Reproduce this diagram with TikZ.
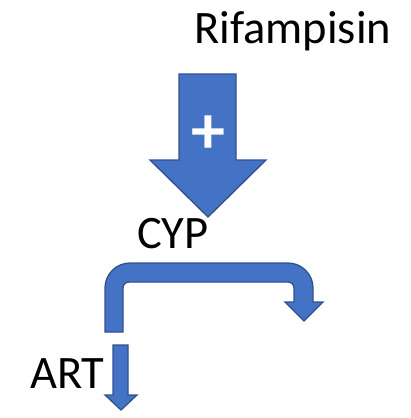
\documentclass[tikz,border=0pt]{standalone}
\usepackage{fontspec}
\setmainfont{Carlito}
\begin{document}
\begin{tikzpicture}[x=1pt,y=-1pt,
  blockarrow/.style={fill=officeblue,draw=officeedge,line width=1.3pt,line join=miter},
  lbl/.style={inner sep=0pt,anchor=base west,font=\fontsize{46.5}{52}\selectfont,text=black}]
\definecolor{officeblue}{HTML}{4472C4}
\definecolor{officeedge}{HTML}{2F528F}
\useasboundingbox (0,0) rectangle (410,418);
% big down arrow
\draw[blockarrow] (179,74) -- (236,74) -- (236,160) -- (266,160) -- (208,217) -- (150,160) -- (179,160) -- cycle;
\node[inner sep=0pt,text=white,font=\fontsize{68}{74}\selectfont\bfseries] (plus) at (208,135) {+};
% bent arrow
\draw[blockarrow] (105,332) -- (105,288) .. controls (105,274.2) and (116.2,263) .. (130,263)
  -- (288,263) .. controls (301.8,263) and (313,274.2) .. (313,288)
  -- (313,302) -- (323,302) -- (304,321) -- (285,302) -- (294,302) -- (294,288)
  .. controls (294,284.7) and (291.3,282) .. (288,282)
  -- (129,282) .. controls (125.7,282) and (123,284.7) .. (123,288)
  -- (123,332) -- cycle;
% small down arrow
\draw[blockarrow] (113,345) -- (128,345) -- (128,395) -- (137,395) -- (121,410) -- (105,395) -- (113,395) -- cycle;
% labels
\node[lbl] (rif) at (194,43) {Rifampisin};
\node[lbl] (cyp) at (137,248) {CYP};
\node[lbl] (art) at (30,388) {ART};
\end{tikzpicture}
\end{document}
